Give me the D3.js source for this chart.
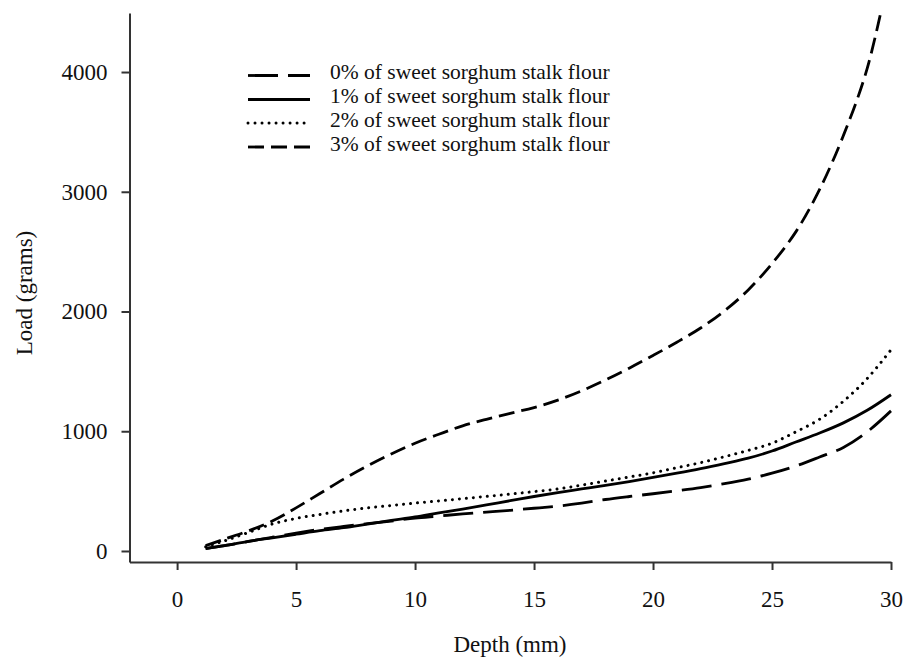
<!DOCTYPE html>
<html>
<head>
<meta charset="utf-8">
<script src="https://cdn.jsdelivr.net/npm/d3@7/dist/d3.min.js"></script>
<style>
  html, body { margin: 0; padding: 0; background: #fff; }
  svg { display: block; }
  text { font-family: "Liberation Serif", "Times New Roman", serif; fill: #111; }
</style>
</head>
<body>
<svg id="chart" width="915" height="666"></svg>
<script>
// Penetration depth (mm) at which load was recorded
const depth = [1.2, 2, 3, 4, 5, 6, 7, 8, 9, 10, 11, 12, 13, 14, 15, 16, 17, 18, 19, 20, 21, 22, 23, 24, 25, 26, 27, 28, 29, 30];

// Load (grams) for each flour level
const load0 = [20, 45, 80, 115, 150, 180, 205, 228, 250, 275, 292, 310, 325, 340, 357, 375, 400, 430, 455, 478, 503, 530, 562, 600, 650, 710, 785, 865, 995, 1170];
const load1 = [20, 45, 80, 110, 140, 170, 195, 225, 255, 284, 318, 350, 385, 420, 455, 488, 518, 548, 580, 614, 650, 688, 730, 775, 835, 910, 985, 1070, 1175, 1305];
const load2 = [35, 85, 155, 225, 272, 305, 335, 360, 380, 400, 418, 437, 456, 475, 496, 518, 550, 584, 618, 653, 695, 738, 787, 840, 900, 995, 1100, 1250, 1440, 1680];
const load3 = [45, 100, 168, 250, 360, 480, 600, 710, 810, 900, 975, 1045, 1100, 1150, 1198, 1260, 1338, 1428, 1527, 1633, 1743, 1862, 2005, 2180, 2400, 2665, 3020, 3470, 4030, 4900];

const seriesNames = [
  "0% of sweet sorghum stalk flour",
  "1% of sweet sorghum stalk flour",
  "2% of sweet sorghum stalk flour",
  "3% of sweet sorghum stalk flour"
];
const seriesValues = [load0, load1, load2, load3];

const xTicks = [0, 5, 10, 15, 20, 25, 30];
const yTicks = [0, 1000, 2000, 3000, 4000];

// Line styles per series
const styles = [
  { dash: "30,10", width: 2.8, cap: "butt" },
  { dash: null, width: 2.8, cap: "butt" },
  { dash: "0.01,7", width: 3, cap: "round" },
  { dash: "16,7", width: 2.8, cap: "butt" }
];

const svg = d3.select("#chart");

const x = d3.scaleLinear().domain([-2, 30]).range([129.5, 891]);
const y = d3.scaleLinear().domain([-92, 4493]).range([562, 13]);

// Clip curves to the plotting area
svg.append("defs").append("clipPath").attr("id", "plotClip")
  .append("rect")
  .attr("x", x(-2)).attr("y", y(4493))
  .attr("width", x(30) - x(-2) + 4).attr("height", y(-92) - y(4493));

// Axes
const xAxis = d3.axisBottom(x).tickValues(xTicks).tickFormat(d3.format("d"))
  .tickSize(8).tickSizeOuter(0).tickPadding(21);
const yAxis = d3.axisLeft(y).tickValues(yTicks).tickFormat(d3.format("d"))
  .tickSize(8).tickSizeOuter(0).tickPadding(14);

const gx = svg.append("g").attr("transform", `translate(0,${y(-92)})`).call(xAxis);
const gy = svg.append("g").attr("transform", `translate(${x(-2)},0)`).call(yAxis);

[gx, gy].forEach(g => {
  g.select(".domain").attr("stroke", "#333").attr("stroke-width", 2);
  g.selectAll(".tick line").attr("stroke", "#333").attr("stroke-width", 2);
  g.selectAll(".tick text")
    .attr("font-family", "'Liberation Serif', 'Times New Roman', serif")
    .attr("font-size", 23).attr("fill", "#111");
});

// Axis titles
svg.append("text")
  .attr("x", 510).attr("y", 652)
  .attr("text-anchor", "middle")
  .attr("font-size", 23)
  .text("Depth (mm)");

svg.append("text")
  .attr("transform", "translate(32,293) rotate(-90)")
  .attr("text-anchor", "middle")
  .attr("font-size", 23)
  .text("Load (grams)");

// Curves
const line = d3.line()
  .x((d, i) => x(depth[i]))
  .y(d => y(d))
  .curve(d3.curveCatmullRom.alpha(0.5));

const plot = svg.append("g").attr("clip-path", "url(#plotClip)");
seriesValues.forEach((vals, k) => {
  const s = styles[k];
  plot.append("path")
    .datum(vals)
    .attr("d", line)
    .attr("fill", "none")
    .attr("stroke", "#000")
    .attr("stroke-width", s.width)
    .attr("stroke-linecap", s.cap)
    .attr("stroke-dasharray", s.dash);
});

// Legend
const legend = svg.append("g");
const rowY = [75.5, 99.5, 123, 147];
seriesNames.forEach((name, k) => {
  const s = styles[k];
  legend.append("line")
    .attr("x1", 248).attr("x2", 310)
    .attr("y1", rowY[k]).attr("y2", rowY[k])
    .attr("stroke", "#000")
    .attr("stroke-width", s.width)
    .attr("stroke-linecap", s.cap)
    .attr("stroke-dasharray", s.dash);
  legend.append("text")
    .attr("x", 330).attr("y", rowY[k] + 3.5)
    .attr("font-size", 21.5)
    .text(name);
});
</script>
</body>
</html>
